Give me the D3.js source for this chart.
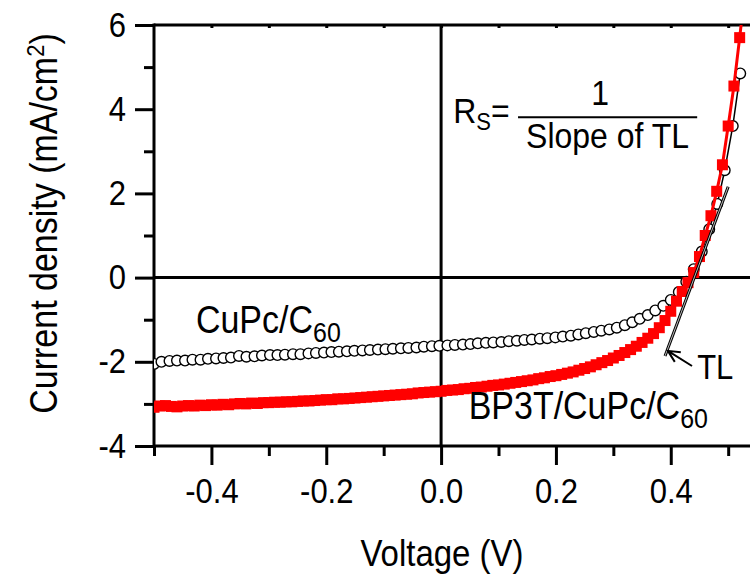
<!DOCTYPE html>
<html>
<head>
<meta charset="utf-8">
<script src="https://cdn.jsdelivr.net/npm/d3@7"></script>
<style>
  body { margin: 0; background: #fff; }
  svg text { font-family: "Liberation Sans", Arial, sans-serif; fill: #000; }
</style>
</head>
<body>
<div id="chart"></div>
<script>
// CuPc/C60 device (open circles)
const vCupc = [-0.500,-0.487,-0.473,-0.460,-0.446,-0.433,-0.419,-0.406,-0.392,-0.379,
  -0.366,-0.352,-0.339,-0.325,-0.312,-0.298,-0.285,-0.272,-0.258,-0.245,
  -0.231,-0.218,-0.204,-0.191,-0.178,-0.164,-0.151,-0.137,-0.124,-0.110,
  -0.097,-0.084,-0.070,-0.057,-0.043,-0.030,-0.016,-0.003,0.011,0.024,
  0.038,0.051,0.064,0.078,0.091,0.105,0.118,0.132,0.145,0.158,
  0.172,0.185,0.199,0.212,0.226,0.239,0.252,0.266,0.279,0.293,
  0.306,0.320,0.333,0.346,0.360,0.373,0.387,0.400,0.414,0.427,
  0.440,0.454,0.467,0.481,0.494,0.508,0.521];
const jCupc = [-2.05,-2.00,-1.98,-1.97,-1.97,-1.95,-1.95,-1.93,-1.92,-1.91,
  -1.90,-1.86,-1.88,-1.87,-1.85,-1.84,-1.84,-1.83,-1.82,-1.82,
  -1.80,-1.79,-1.78,-1.77,-1.76,-1.75,-1.74,-1.73,-1.72,-1.71,
  -1.70,-1.69,-1.68,-1.67,-1.66,-1.64,-1.63,-1.62,-1.61,-1.60,
  -1.59,-1.58,-1.56,-1.55,-1.54,-1.53,-1.51,-1.50,-1.48,-1.47,
  -1.45,-1.44,-1.42,-1.40,-1.38,-1.35,-1.32,-1.29,-1.26,-1.23,
  -1.19,-1.13,-1.06,-0.98,-0.89,-0.78,-0.67,-0.53,-0.34,-0.10,
  0.20,0.62,1.15,1.75,2.55,3.60,4.85];

// BP3T/CuPc/C60 device (red squares)
const vBp3t = [-0.50,-0.49,-0.48,-0.47,-0.46,-0.45,-0.44,-0.43,-0.42,-0.41,
  -0.40,-0.39,-0.38,-0.37,-0.36,-0.35,-0.34,-0.33,-0.32,-0.31,
  -0.30,-0.29,-0.28,-0.27,-0.26,-0.25,-0.24,-0.23,-0.22,-0.21,
  -0.20,-0.19,-0.18,-0.17,-0.16,-0.15,-0.14,-0.13,-0.12,-0.11,
  -0.10,-0.09,-0.08,-0.07,-0.06,-0.05,-0.04,-0.03,-0.02,-0.01,
  0.00,0.01,0.02,0.03,0.04,0.05,0.06,0.07,0.08,0.09,
  0.10,0.11,0.12,0.13,0.14,0.15,0.16,0.17,0.18,0.19,
  0.20,0.21,0.22,0.23,0.24,0.25,0.26,0.27,0.28,0.29,
  0.30,0.31,0.32,0.33,0.34,0.35,0.36,0.37,0.38,0.39,
  0.40,0.41,0.42,0.43,0.44,0.45,0.46,0.47,0.48,0.49,
  0.50,0.51,0.52,0.53];
const jBp3t = [-3.08,-3.05,-3.04,-3.06,-3.07,-3.05,-3.04,-3.05,-3.03,-3.04,
  -3.02,-3.03,-3.01,-3.02,-3.00,-2.99,-3.00,-2.98,-2.99,-2.97,
  -2.97,-2.96,-2.96,-2.95,-2.95,-2.94,-2.93,-2.93,-2.92,-2.91,
  -2.90,-2.90,-2.88,-2.88,-2.87,-2.86,-2.85,-2.84,-2.83,-2.82,
  -2.81,-2.80,-2.79,-2.78,-2.77,-2.76,-2.74,-2.73,-2.72,-2.71,
  -2.70,-2.68,-2.67,-2.66,-2.64,-2.63,-2.61,-2.60,-2.58,-2.56,
  -2.55,-2.53,-2.51,-2.49,-2.47,-2.45,-2.43,-2.40,-2.38,-2.35,
  -2.33,-2.30,-2.27,-2.24,-2.20,-2.16,-2.12,-2.07,-2.02,-1.97,
  -1.91,-1.85,-1.78,-1.71,-1.63,-1.54,-1.44,-1.33,-1.19,-1.02,
  -0.80,-0.56,-0.33,-0.12,0.12,0.50,1.00,1.47,2.05,2.68,
  3.60,4.55,5.70,6.90];

// tangent line (TL) end points
const tlV = [0.390, 0.500];
const tlJ = [-1.86, 2.16];

const xMajor = [-0.4, -0.2, 0.0, 0.2, 0.4];
const xMinor = [-0.5, -0.3, -0.1, 0.1, 0.3, 0.5];
const xTop = [-0.4, -0.3, -0.2, -0.1, 0.0, 0.1, 0.2, 0.3, 0.4, 0.5];
const yMajor = [-4, -2, 0, 2, 4, 6];
const yMinor = [-3, -1, 1, 3, 5];

const width = 750, height = 582;
const mLeft = 154, mRight = 750, mTop = 25, mBottom = 446;
const stretchY = 1.12; // the original lettering is a little taller than Arial

const svg = d3.select("#chart").append("svg")
  .attr("width", width)
  .attr("height", height);

const x = d3.scaleLinear().domain([-0.5, 0.538]).range([mLeft, mRight]);
const y = d3.scaleLinear().domain([-4, 6]).range([mBottom, mTop]);

// move x/y into a transform so the glyphs can be stretched vertically
function stretch(sel, extra = "") {
  sel.each(function () {
    const t = d3.select(this);
    const tx = +t.attr("x") || 0, ty = +t.attr("y") || 0;
    t.attr("x", null).attr("y", null)
      .attr("transform", `translate(${tx},${ty}) ${extra} scale(1,${stretchY})`);
  });
}

// frame + zero lines
const frame = svg.append("g").attr("stroke", "#000").attr("stroke-width", 3);
frame.append("line").attr("x1", x(-0.5)).attr("x2", x(-0.5)).attr("y1", y(6) - 1.5).attr("y2", y(-4) + 1.5);
frame.append("line").attr("x1", x(-0.5)).attr("x2", mRight).attr("y1", y(6)).attr("y2", y(6));
frame.append("line").attr("x1", x(-0.5)).attr("x2", mRight).attr("y1", y(-4)).attr("y2", y(-4));
frame.append("line").attr("x1", x(-0.5)).attr("x2", mRight).attr("y1", y(0)).attr("y2", y(0));
frame.append("line").attr("x1", x(0)).attr("x2", x(0)).attr("y1", y(6)).attr("y2", y(-4));

// axes
const styleAxis = (g) => {
  g.attr("font-family", null);
  g.select(".domain").remove();
  g.selectAll(".tick line").attr("stroke", "#000").attr("stroke-width", 3);
  g.selectAll(".tick text").attr("font-size", 31).attr("fill", "#000").call(stretch);
};

svg.append("g")
  .attr("transform", `translate(0,${mBottom})`)
  .call(d3.axisBottom(x).tickValues(xMajor).tickSize(19).tickPadding(13)
    .tickFormat((d) => d.toFixed(1)))
  .call(styleAxis);

svg.append("g")
  .attr("transform", `translate(0,${mBottom})`)
  .call(d3.axisBottom(x).tickValues(xMinor).tickSize(10).tickFormat(""))
  .call(styleAxis);

svg.append("g")
  .attr("transform", `translate(0,${mTop})`)
  .call(d3.axisBottom(x).tickValues(xTop).tickSize(3).tickFormat(""))
  .call(styleAxis);

svg.append("g")
  .attr("transform", `translate(${mLeft},0)`)
  .call(d3.axisLeft(y).tickValues(yMajor).tickSize(19).tickPadding(9)
    .tickFormat((d) => String(d)))
  .call(styleAxis);

svg.append("g")
  .attr("transform", `translate(${mLeft},0)`)
  .call(d3.axisLeft(y).tickValues(yMinor).tickSize(10).tickFormat(""))
  .call(styleAxis);

// axis titles
svg.append("text")
  .attr("x", (mLeft + mRight) / 2 - 10)
  .attr("y", 566)
  .attr("text-anchor", "middle")
  .attr("font-size", 33)
  .text("Voltage (V)")
  .call(stretch);

const yTitle = svg.append("text")
  .attr("x", 57).attr("y", (mTop + mBottom) / 2 - 12)
  .attr("text-anchor", "middle")
  .attr("font-size", 34)
  .call(stretch, "rotate(-90)");
yTitle.append("tspan").text("Current density (mA/cm");
yTitle.append("tspan").attr("dy", -12).attr("font-size", 22).text("2");
yTitle.append("tspan").attr("dy", 12).text(")");

// data
svg.append("clipPath").attr("id", "plotclip")
  .append("rect").attr("x", mLeft).attr("y", mTop).attr("width", mRight - mLeft).attr("height", mBottom - mTop);
const plot = svg.append("g").attr("clip-path", "url(#plotclip)");

const cupc = vCupc.map((v, i) => ({ v, j: jCupc[i] }));
const bp3t = vBp3t.map((v, i) => ({ v, j: jBp3t[i] }));
const line = d3.line().x((d) => x(d.v)).y((d) => y(d.j));

plot.append("path")
  .attr("d", line(cupc))
  .attr("fill", "none")
  .attr("stroke", "#000")
  .attr("stroke-width", 1.5);

plot.selectAll("circle.cupc")
  .data(cupc)
  .join("circle")
  .attr("class", "cupc")
  .attr("cx", (d) => x(d.v))
  .attr("cy", (d) => y(d.j))
  .attr("r", 5.3)
  .attr("fill", "#fff")
  .attr("stroke", "#000")
  .attr("stroke-width", 1.4);

plot.append("path")
  .attr("d", line(bp3t))
  .attr("fill", "none")
  .attr("stroke", "#ff0000")
  .attr("stroke-width", 3);

const sq = 11;
plot.selectAll("rect.bp3t")
  .data(bp3t)
  .join("rect")
  .attr("class", "bp3t")
  .attr("x", (d) => x(d.v) - sq / 2)
  .attr("y", (d) => y(d.j) - sq / 2)
  .attr("width", sq)
  .attr("height", sq)
  .attr("fill", "#ff0000");

// tangent line, drawn as a double line
const tl = tlV.map((v, i) => ({ v, j: tlJ[i] }));
plot.append("path").attr("d", line(tl)).attr("stroke", "#000").attr("stroke-width", 3).attr("fill", "none");
plot.append("path").attr("d", line(tl)).attr("stroke", "#bbb").attr("stroke-width", 1).attr("fill", "none");

// arrow to TL
const tip = [x(0.395), y(-1.74)], tail = [x(0.437), y(-2.10)];
const ang = Math.atan2(tail[1] - tip[1], tail[0] - tip[0]);
const ah = 13, spread = 0.45;
svg.append("path")
  .attr("d", `M${tail[0]},${tail[1]}L${tip[0]},${tip[1]}` +
    `M${tip[0] + ah * Math.cos(ang - spread)},${tip[1] + ah * Math.sin(ang - spread)}L${tip[0]},${tip[1]}` +
    `L${tip[0] + ah * Math.cos(ang + spread)},${tip[1] + ah * Math.sin(ang + spread)}`)
  .attr("fill", "none")
  .attr("stroke", "#000")
  .attr("stroke-width", 2);

svg.append("text")
  .attr("x", x(0.446)).attr("y", y(-2.40))
  .attr("font-size", 31)
  .text("TL")
  .call(stretch);

// series labels
const lab1 = svg.append("text")
  .attr("x", x(-0.427)).attr("y", y(-1.31))
  .attr("font-size", 34)
  .call(stretch);
lab1.append("tspan").text("CuPc/C");
lab1.append("tspan").attr("dy", 8).attr("font-size", 25).text("60");

const lab2 = svg.append("text")
  .attr("x", x(0.048)).attr("y", y(-3.36))
  .attr("font-size", 34)
  .call(stretch);
lab2.append("tspan").text("BP3T/CuPc/C");
lab2.append("tspan").attr("dy", 8).attr("font-size", 25).text("60");

// Rs formula
const rs = svg.append("text")
  .attr("x", x(0.021)).attr("y", y(3.67))
  .attr("font-size", 32)
  .call(stretch);
rs.append("tspan").text("R");
rs.append("tspan").attr("dy", 6).attr("font-size", 22).text("S");
rs.append("tspan").attr("dy", -6).text("=");

svg.append("line")
  .attr("x1", x(0.134)).attr("x2", x(0.446))
  .attr("y1", y(3.81)).attr("y2", y(3.81))
  .attr("stroke", "#000").attr("stroke-width", 2);
svg.append("text")
  .attr("x", x(0.277)).attr("y", y(4.10))
  .attr("text-anchor", "middle")
  .attr("font-size", 32)
  .text("1")
  .call(stretch);
svg.append("text")
  .attr("x", x(0.29)).attr("y", y(3.07))
  .attr("text-anchor", "middle")
  .attr("font-size", 32)
  .text("Slope of TL")
  .call(stretch);
</script>
</body>
</html>
